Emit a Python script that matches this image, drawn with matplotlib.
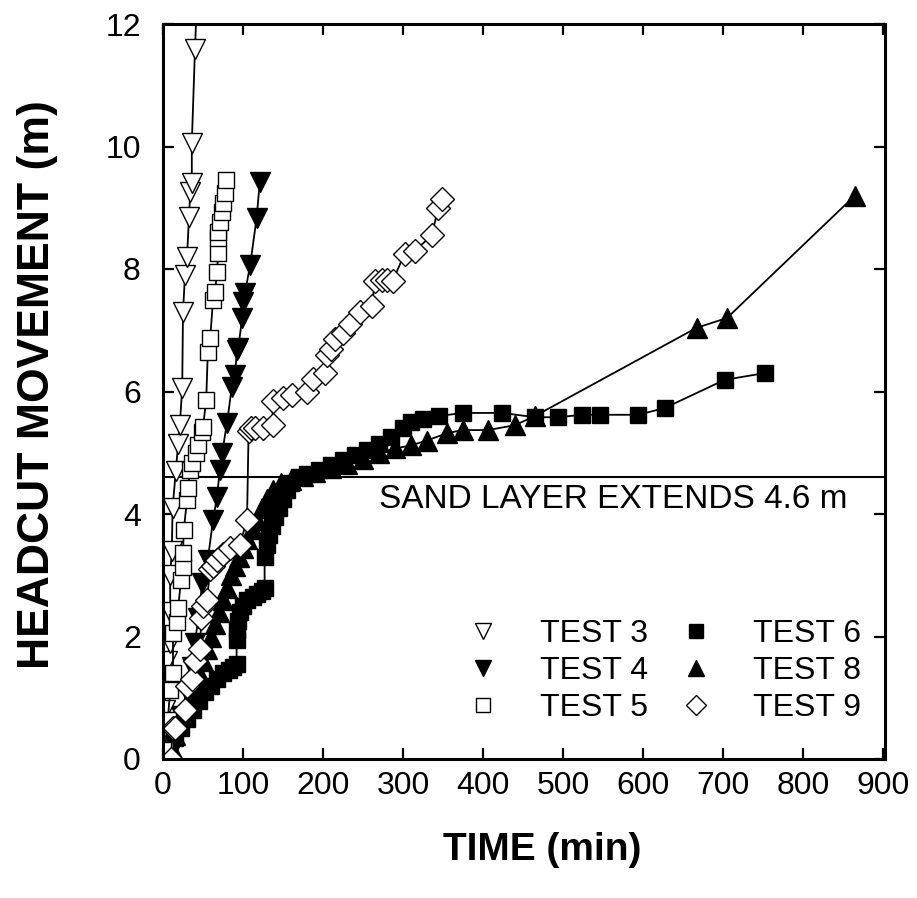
import matplotlib.pyplot as plt
from matplotlib.lines import Line2D
from matplotlib.ticker import MultipleLocator

plt.rcParams['font.family'] = ['Liberation Sans', 'DejaVu Sans']

# headcut movement (m) against time (min)
t3_time = [0, 1, 2, 3, 5, 9, 9, 9, 11, 12, 16, 19, 21, 24, 25, 27.5, 30, 32.5, 34, 36, 36, 40, 43]
t3_move = [0, 0.5, 0.8, 1.3, 1.6, 1.9, 2.4, 3.0, 3.4, 4.1, 4.7, 5.15, 5.45, 6.05, 7.3, 7.9, 8.2, 8.85,
           9.25, 9.4, 10.05, 11.6, 12.6]

t4_time = [8, 15, 22, 30, 36, 40, 44, 49, 56, 62.5, 67.5, 71, 74, 80, 86, 90, 92.5, 94, 99, 100,
           102.5, 109, 117, 121]
t4_move = [0.05, 0.35, 0.7, 1.1, 1.5, 1.9, 2.3, 2.87, 3.25, 3.9, 4.28, 4.72, 5.0, 5.49, 6.07, 6.27,
           6.68, 6.71, 7.2, 7.46, 7.61, 8.07, 8.83, 9.42]

t5_time = [2.5, 6, 9, 12.5, 12.5, 17.5, 19, 22.5, 25, 25, 26, 30, 31, 34, 36, 41, 44, 49, 50, 54,
           56, 59, 62.5, 65, 67.5, 69, 69, 69, 71, 74, 75, 77.5, 79]
t5_move = [0.15, 0.64, 1.13, 1.4, 2.06, 2.24, 2.47, 2.92, 3.13, 3.36, 3.74, 4.23, 4.42, 4.72, 4.83,
           5.0, 5.13, 5.34, 5.42, 5.86, 6.64, 6.87, 7.49, 7.62, 7.95, 8.26, 8.5, 8.6, 8.77, 8.93,
           9.07, 9.24, 9.45]

t6_time = [3, 8, 15, 22, 30, 38, 45, 52, 60, 68, 75, 82, 88, 92, 92, 93, 94, 96, 100, 105, 112,
           118, 124, 127, 127, 130, 133, 136, 140, 145, 150, 155, 160, 170, 180, 195, 210, 225,
           240, 255, 270, 285, 300, 310, 325, 345, 375, 424, 465, 494, 524, 546, 594, 627, 702, 752]
t6_move = [0, 0.15, 0.35, 0.5, 0.65, 0.8, 0.95, 1.1, 1.2, 1.3, 1.4, 1.45, 1.5, 1.55, 1.95, 2.1,
           2.25, 2.4, 2.5, 2.6, 2.65, 2.7, 2.75, 2.8, 3.3, 3.5, 3.65, 3.8, 3.95, 4.1, 4.25, 4.4,
           4.5, 4.6, 4.65, 4.72, 4.8, 4.88, 4.97, 5.05, 5.15, 5.25, 5.4, 5.5, 5.55, 5.6, 5.65,
           5.65, 5.58, 5.58, 5.62, 5.62, 5.62, 5.73, 6.19, 6.3]

t8_time = [5, 10, 15, 20, 25, 30, 35, 40, 45, 50, 55, 60, 65, 70, 75, 80, 85, 90, 95, 100, 105,
           112, 118, 124, 130, 138, 148, 160, 175, 190, 210, 230, 250, 270, 290, 310, 330, 355,
           375, 406, 440, 465, 667, 705, 865]
t8_move = [0, 0.2, 0.4, 0.6, 0.75, 0.9, 1.05, 1.2, 1.4, 1.6, 1.8, 2.0, 2.2, 2.4, 2.6, 2.8, 3.0,
           3.15, 3.3, 3.45, 3.6, 3.75, 3.9, 4.1, 4.25, 4.4, 4.5, 4.55, 4.62, 4.68, 4.75, 4.82,
           4.9, 5.0, 5.07, 5.12, 5.2, 5.32, 5.37, 5.37, 5.45, 5.6, 7.04, 7.2, 9.2]

t9_time = [10, 12, 15, 27, 30, 36, 40, 46, 48, 50, 55, 59, 63, 67, 75, 84, 96, 105, 107, 110,
           115, 125, 137, 137, 150, 161, 180, 187, 202, 205, 210, 215, 225, 234, 246, 261, 265,
           274, 280, 287, 302, 315, 336, 344, 349]
t9_move = [0, 0.5, 0.5, 0.8, 1.2, 1.3, 1.6, 1.8, 2.3, 2.5, 2.6, 3.1, 3.15, 3.25, 3.35, 3.45, 3.5,
           3.9, 5.35, 5.4, 5.4, 5.4, 5.45, 5.85, 5.9, 5.95, 6.0, 6.2, 6.3, 6.6, 6.7, 6.85, 6.95,
           7.1, 7.3, 7.4, 7.8, 7.82, 7.82, 7.8, 8.25, 8.3, 8.55, 9.0, 9.15]

fig = plt.figure(figsize=(9.17, 8.98), dpi=100)
ax = fig.add_axes([163 / 917, 1 - 759 / 898, 722 / 917, 735 / 898])

lw = 1.3
ax.axhline(4.6, color='black', lw=1.5, zorder=1)
ax.plot(t6_time, t6_move, '-s', color='black', ms=12, lw=lw, mfc='black', mec='black')
ax.plot(t8_time, t8_move, '-^', color='black', ms=14, lw=lw, mfc='black', mec='black')
ax.plot(t4_time, t4_move, '-v', color='black', ms=14, lw=lw, mfc='black', mec='black')
ax.plot(t3_time, t3_move, '-v', color='black', ms=14, lw=lw, mfc='white', mec='black', mew=1)
ax.plot(t5_time, t5_move, '-s', color='black', ms=12, lw=lw, mfc='white', mec='black', mew=1)
ax.plot(t9_time, t9_move, '-D', color='black', ms=12, lw=lw, mfc='white', mec='black', mew=1)

ax.text(856, 4.23, 'SAND LAYER EXTENDS 4.6 m', ha='right', va='center', fontsize=24)

ax.set_xlim(0, 902.5)
ax.set_ylim(0, 12)
ax.xaxis.set_major_locator(MultipleLocator(100))
ax.yaxis.set_major_locator(MultipleLocator(2))
ax.tick_params(direction='in', length=8, width=1.6, top=True, right=True, labelsize=23)
ax.tick_params(axis='y', pad=16)
ax.tick_params(axis='x', pad=9)
for s in ax.spines.values():
    s.set_linewidth(2.2)

ax.set_xlabel('TIME (min)', fontsize=28, fontweight='bold')
ax.xaxis.set_label_coords(0.525, -0.100)
ax.set_ylabel('HEADCUT MOVEMENT (m)', fontsize=32, fontweight='bold')
ax.yaxis.set_label_coords(-0.146, 0.509)

handles = [
    Line2D([], [], ls='none', marker='v', ms=11, mfc='white', mec='black', mew=1),
    Line2D([], [], ls='none', marker='v', ms=11, mfc='black', mec='black'),
    Line2D([], [], ls='none', marker='s', ms=10, mfc='white', mec='black', mew=1),
    Line2D([], [], ls='none', marker='s', ms=10, mfc='black', mec='black'),
    Line2D([], [], ls='none', marker='^', ms=11, mfc='black', mec='black'),
    Line2D([], [], ls='none', marker='D', ms=10, mfc='white', mec='black', mew=1),
]
labels = ['TEST 3', 'TEST 4', 'TEST 5', 'TEST 6', 'TEST 8', 'TEST 9']
ax.legend(handles, labels, ncol=2, frameon=False, fontsize=23, loc='upper left',
          bbox_to_anchor=(0.421, 0.19), borderpad=0, borderaxespad=0, handlelength=1.0,
          handletextpad=1.28, columnspacing=1.0, labelspacing=0.22)

fig.savefig('out.png', dpi=100)
